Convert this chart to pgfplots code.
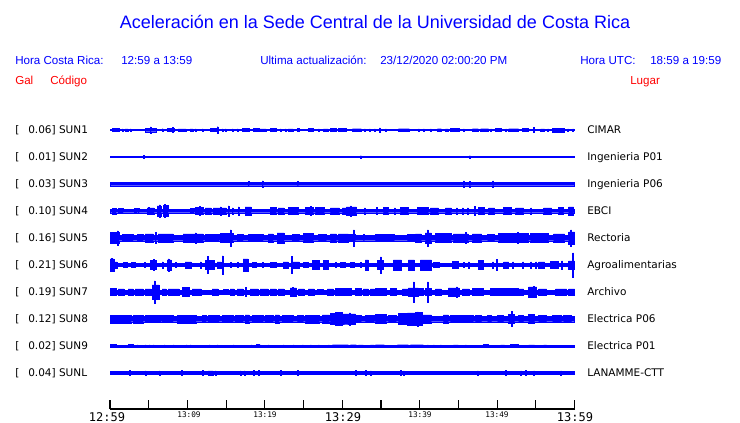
\documentclass[border=0pt]{standalone}
\usepackage{pgfplots}
\pgfplotsset{compat=1.18}
\usepackage{pgfplotstable}
\usepackage{fontspec}
\setmainfont{Liberation Sans}
\newfontfamily\djs{DejaVu Sans}
\newfontfamily\djm{DejaVu Sans Mono}
\definecolor{tb}{RGB}{0,0,255}
\definecolor{tr}{RGB}{255,0,0}

\pgfplotstableread[row sep=\\]{x a\\110 0.6\\112 1.5\\119 0.6\\122 1.2\\123 0.6\\125 1.2\\128 0.6\\130 1.2\\131 0.6\\145 1.7\\150 3\\151 1.7\\156 0.6\\162 1.3\\163 0.6\\167 1.5\\172 2.5\\173 1.5\\174 0.6\\178 1.2\\186 0.6\\190 1.2\\193 0.6\\195 1.2\\196 0.6\\202 1.2\\203 0.6\\210 1.5\\216 0.6\\217 3.3\\218 0.6\\222 1.2\\223 0.6\\225 1.2\\226 0.6\\232 1.2\\233 0.6\\237 1.2\\238 0.6\\242 1.5\\249 0.6\\253 1.5\\259 0.6\\260 1.2\\266 0.6\\270 1.5\\276 0.6\\280 1.2\\281 0.6\\285 1.2\\286 0.6\\288 1.2\\293 0.6\\297 1.5\\299 0.6\\308 1.5\\313 0.6\\318 1.2\\319 0.6\\323 1.2\\328 0.6\\330 1.5\\336 0.6\\338 1.5\\346 0.6\\352 1.3\\361 0.6\\364 1.2\\365 0.6\\369 1.2\\370 0.6\\374 1.2\\375 0.6\\379 2\\380 0.6\\385 1.2\\386 0.6\\398 1.3\\409 0.6\\418 1.2\\419 0.6\\423 1.2\\424 0.6\\430 1.2\\431 0.6\\437 1.3\\441 0.6\\445 1.2\\448 0.6\\450 1.5\\459 0.6\\463 1.2\\464 0.6\\472 1.3\\478 0.6\\480 1.3\\488 0.6\\490 1.2\\491 0.6\\495 1.5\\501 0.6\\505 1.2\\506 0.6\\508 1.3\\518 0.6\\522 1.5\\528 0.6\\533 2.5\\534 0.6\\540 1.2\\544 0.6\\547 1.2\\548 0.6\\552 1.8\\564 0.6\\567 1.2\\568 0.6\\572 1.2\\573 0.6\\574 0.6\\}\sunA

\pgfplotstableread[row sep=\\]{x a\\110 0.6\\143 1.5\\144 0.6\\360 1.3\\361 0.6\\469 1.3\\470 0.6\\574 0.6\\}\sunB

\pgfplotstableread[row sep=\\]{x a\\110 1.7\\248 2.5\\249 1.7\\262 3\\263 1.7\\297 2.5\\298 1.7\\463 3\\464 1.7\\469 2.8\\470 1.7\\492 3\\493 1.7\\574 1.7\\}\sunC

\pgfplotstableread[row sep=\\]{x a\\110 1.7\\112 2.8\\116 1.7\\118 2.5\\123 1.7\\134 2.5\\137 1.7\\138 2.5\\139 1.7\\147 3\\148 3.5\\149 3\\154 1.7\\157 5\\159 6\\160 5\\161 1.7\\163 5.5\\164 6.5\\165 5.5\\168 1.7\\190 2.5\\194 1.7\\195 3.5\\199 4.5\\200 3.5\\203 1.7\\205 3\\211 1.7\\213 3\\220 4\\221 3\\226 1.7\\228 5\\229 1.7\\232 3\\233 1.7\\238 4\\239 1.7\\245 4\\251 1.7\\270 3.5\\276 1.7\\278 3\\284 1.7\\288 3.5\\298 1.7\\305 3.5\\310 4.5\\311 3.5\\313 1.7\\315 3.5\\324 1.7\\330 3\\339 1.7\\342 3\\346 4\\350 5\\351 4\\356 1.7\\364 3\\365 1.7\\376 3.5\\377 1.7\\383 3.5\\388 1.7\\394 3\\395 1.7\\400 3.5\\408 1.7\\417 3.5\\428 1.7\\430 3\\438 1.7\\445 3\\451 1.7\\456 3\\457 1.7\\462 3\\463 1.7\\467 3\\468 1.7\\474 4.5\\475 1.7\\478 3.5\\484 1.7\\488 3\\494 1.7\\503 3.5\\511 1.7\\515 3\\523 1.7\\530 3\\531 1.7\\543 3\\551 1.7\\558 3.5\\563 1.7\\568 4\\573 1.7\\574 1.7\\}\sunD

\pgfplotstableread[row sep=\\]{x a\\110 5.5\\117 7\\118 5.5\\119 2.7\\122 3.5\\133 2.7\\137 3.5\\143 2.7\\145 4\\153 2.7\\155 5.5\\156 2.7\\158 4\\173 2.7\\183 4\\195 5\\196 4\\203 2.7\\205 3.5\\219 2.7\\220 4.5\\230 8\\231 4.5\\233 2.7\\237 3.5\\243 2.7\\248 3.5\\263 2.7\\268 4\\273 2.7\\277 5\\284 2.7\\292 3.5\\299 2.7\\303 4.5\\313 2.7\\318 3.5\\326 2.7\\330 4\\336 2.7\\338 4\\348 3.5\\353 8\\354 3.5\\355 2.7\\363 3.5\\364 2.7\\375 3.5\\394 2.7\\407 3.5\\415 4\\421 2.7\\425 5\\427 8\\428 5\\431 2.7\\435 4.5\\451 2.7\\453 4\\465 5.5\\466 4\\468 2.7\\472 4\\481 2.7\\487 3.5\\494 2.7\\498 4.5\\517 5.5\\518 4.5\\528 2.7\\530 4.5\\548 2.7\\553 4\\564 2.7\\568 6\\570 8\\571 6\\574 6\\}\sunE

\pgfplotstableread[row sep=\\]{x a\\110 6\\111 6.5\\112 6\\114 3\\117 1.5\\123 2.5\\127 1.5\\131 2.5\\135 1.5\\144 2.5\\145 1.5\\150 4.5\\153 5.5\\154 4.5\\156 1.5\\162 3\\163 1.5\\167 5\\168 6\\169 5\\171 1.5\\175 2.5\\176 1.5\\185 3\\191 1.5\\200 3\\201 1.5\\205 4.5\\207 8.5\\208 4.5\\214 1.5\\217 3\\221 1.5\\222 9\\223 1.5\\230 2.5\\231 1.5\\237 2.5\\238 1.5\\243 6\\248 1.5\\252 2.5\\256 1.5\\262 2.5\\263 1.5\\270 2.5\\276 1.5\\283 3\\288 1.5\\291 8.5\\292 3\\299 1.5\\303 2.5\\308 1.5\\312 4.5\\319 1.5\\323 4.5\\328 1.5\\335 2.5\\336 1.5\\340 2.5\\345 1.5\\350 2.5\\354 1.5\\360 2.5\\361 1.5\\365 5\\368 1.5\\377 4.5\\380 8\\381 4.5\\383 1.5\\393 5\\401 1.5\\408 5\\414 1.5\\420 5\\431 1.5\\433 2.5\\439 1.5\\452 3.5\\458 1.5\\463 2.5\\464 1.5\\468 3\\469 1.5\\478 4.5\\483 1.5\\492 3\\493 1.5\\496 5.5\\497 1.5\\503 3\\508 1.5\\512 3\\513 1.5\\522 3\\523 1.5\\530 3\\531 1.5\\535 3\\536 1.5\\538 3\\544 1.5\\550 3.5\\558 1.5\\561 4\\562 1.5\\568 4\\572 12\\573 4\\574 4\\}\sunF

\pgfplotstableread[row sep=\\]{x a\\110 3.5\\116 1.8\\118 3\\124 1.8\\128 3\\133 1.8\\135 3\\143 1.8\\145 3\\151 1.8\\152 7\\154 11\\155 7\\159 1.8\\162 3\\166 1.8\\168 3\\179 1.8\\182 4.5\\189 1.8\\192 3\\201 1.8\\212 3\\218 1.8\\223 2.5\\228 1.8\\230 3\\234 1.8\\237 3\\243 1.8\\245 4.5\\246 1.8\\250 3\\258 1.8\\260 3\\268 1.8\\270 3\\276 1.8\\278 3\\284 1.8\\290 4\\292 4.5\\293 4\\296 1.8\\298 3\\304 1.8\\308 3\\314 1.8\\317 2.5\\323 1.8\\327 3\\333 1.8\\335 3.5\\351 1.8\\355 3.5\\361 1.8\\363 3\\368 1.8\\370 3\\374 1.8\\375 3.5\\386 1.8\\390 3.5\\396 1.8\\402 3\\408 4\\413 10\\414 4\\418 3.5\\423 1.8\\425 3.5\\427 10\\428 3.5\\431 1.8\\435 3\\441 1.8\\448 4\\456 5\\457 4\\459 1.8\\462 3\\469 1.8\\472 3.5\\483 1.8\\490 3.5\\518 3\\523 1.8\\528 5\\533 5.5\\534 5\\536 1.8\\538 3\\546 1.8\\555 3\\566 1.8\\568 3\\574 3\\}\sunG

\pgfplotstableread[row sep=\\]{x a\\110 3.8\\131 2.7\\133 3.8\\143 2.7\\145 3.5\\161 2.7\\162 3.5\\173 2.7\\177 3.8\\196 2.7\\202 3.5\\206 2.7\\208 3.5\\219 2.7\\222 3.5\\233 2.7\\235 3.5\\243 2.7\\245 4\\249 2.7\\252 3.5\\263 2.7\\265 3.5\\273 2.7\\275 4\\279 2.7\\282 3.5\\293 2.7\\297 3.5\\303 2.7\\305 3.8\\319 2.7\\322 4\\329 2.7\\330 5.5\\335 6.5\\342 5\\346 5\\349 6\\350 5\\355 3.5\\361 2.7\\365 3.5\\374 2.7\\375 4.5\\386 2.7\\388 3.5\\396 2.7\\398 5.5\\407 6\\415 6.5\\417 7\\418 6.5\\422 4\\431 2.7\\443 4\\448 2.7\\450 3.5\\473 2.7\\475 3.5\\481 2.7\\487 3.5\\491 2.7\\497 3.5\\503 2.7\\508 4.5\\511 7.5\\512 4.5\\514 2.7\\518 3.5\\523 2.7\\528 4.5\\534 2.7\\538 3.5\\546 2.7\\552 3.5\\561 2.7\\563 3.5\\571 2.7\\574 2.7\\}\sunH

\pgfplotstableread[row sep=\\]{x a\\110 1.5\\116 0.7\\128 1.5\\133 0.7\\137 1.2\\138 0.7\\145 1.2\\146 0.7\\149 1.2\\150 0.7\\153 1.2\\154 0.7\\164 1.2\\165 0.7\\173 1.2\\174 0.7\\186 1.2\\187 0.7\\190 1.2\\191 0.7\\209 1.2\\210 0.7\\217 1.2\\218 0.7\\233 1.2\\234 0.7\\251 1.2\\252 0.7\\256 1.5\\259 0.7\\260 1.2\\261 0.7\\268 1.2\\269 0.7\\283 1.2\\284 0.7\\293 1.2\\294 0.7\\302 1.2\\303 0.7\\310 1.2\\311 0.7\\318 1.2\\319 0.7\\328 1.2\\329 0.7\\332 1.3\\348 0.7\\350 1.3\\356 0.7\\358 1.2\\363 0.7\\370 1.2\\374 0.7\\375 1.3\\384 0.7\\397 1.3\\408 0.7\\410 1.3\\423 0.7\\427 1.2\\428 0.7\\433 1.2\\434 0.7\\440 1.2\\441 0.7\\453 1.2\\458 0.7\\465 1.2\\466 0.7\\483 1.5\\488 0.7\\500 1.2\\504 0.7\\510 1.5\\518 0.7\\528 1.2\\534 0.7\\543 1.2\\546 0.7\\574 0.7\\}\sunI

\pgfplotstableread[row sep=\\]{x a\\110 1.5\\129 2.5\\130 1.5\\145 2.2\\146 1.5\\159 2.2\\160 1.5\\181 2.5\\182 1.5\\202 2.5\\203 1.5\\208 2\\213 1.5\\215 2\\216 1.5\\240 2\\241 1.5\\244 2\\245 1.5\\253 2.5\\254 1.5\\258 2.5\\259 1.5\\280 2.5\\281 1.5\\297 2.5\\298 1.5\\355 2.5\\356 1.5\\365 2.5\\366 1.5\\370 2\\371 1.5\\400 2.5\\401 1.5\\403 2\\404 1.5\\477 2\\478 1.5\\505 2.5\\506 1.5\\520 2\\521 1.5\\525 2.5\\526 1.5\\533 2\\534 1.5\\560 2\\561 1.5\\574 1.5\\}\sunL

\pgfplotsset{
  trace/.style={anchor=west, scale only axis, width=348pt, height=20.25pt,
    xmin=110, xmax=574, ymin=-13.5, ymax=13.5, hide axis, clip=false},
  env/.style={const plot, fill=tb, draw=tb, line width=0.25pt, line join=miter},
}
\newcommand\trace[2]{%
\begin{axis}[trace, at={(82.5pt,#1)}]
\addplot[env] table[x=x,y=a]{#2} \closedcycle;
\addplot[env] table[x=x,y expr=-\thisrow{a}]{#2} \closedcycle;
\addplot[tb, line width=0.6pt] coordinates {(110,0) (574,0)};
\end{axis}}

\newcommand\hdr{\fontsize{8.7pt}{10pt}\selectfont}
\newcommand\lab{\djs\fontsize{7.875pt}{9pt}\selectfont}

\begin{document}
\begin{tikzpicture}[x=0.75pt,y=-0.75pt]
\useasboundingbox[fill=white] (0,0) rectangle (740,423);

% title and header
\node[anchor=base, inner sep=0, text=tb, font=\fontsize{13.5pt}{16pt}\selectfont] at (375,29) {Aceleración en la Sede Central de la Universidad de Costa Rica};
\begin{scope}[every node/.style={anchor=base west, inner sep=0, text=tb, font=\hdr}]
\node at (15,65) {Hora Costa Rica:};
\node at (121,65) {12:59 a 13:59};
\node at (260,65) {Ultima actualización:};
\node at (380,65) {23/12/2020 02:00:20 PM};
\node at (580,65) {Hora UTC:};
\node at (650,65) {18:59 a 19:59};
\end{scope}
\begin{scope}[every node/.style={anchor=base west, inner sep=0, text=tr, font=\hdr}]
\node at (15,85) {Gal};
\node at (50,85) {Código};
\node at (630,85) {Lugar};
\end{scope}

% station labels
\begin{scope}[every node/.style={anchor=base west, inner sep=0, text=black, font=\lab}]
\foreach \y/\g/\c/\l [count=\i from 0] in {
  130/0.06/SUN1/CIMAR, 157/0.01/SUN2/Ingenieria P01, 184/0.03/SUN3/Ingenieria P06,
  211/0.10/SUN4/EBCI, 238/0.16/SUN5/Rectoria, 265/0.21/SUN6/Agroalimentarias,
  292/0.19/SUN7/Archivo, 319/0.12/SUN8/Electrica P06, 346/0.02/SUN9/Electrica P01,
  373/0.04/SUNL/LANAMME-CTT}{
  \node at (15,\y+3.8) {[};
  \node at (28,\y+3.8) {\g] \c};
  \node at (587,\y+3.8) {\l};
}
\end{scope}

% traces
\trace{-97.5pt}{\sunA}
\trace{-117.75pt}{\sunB}
\trace{-138pt}{\sunC}
\trace{-158.25pt}{\sunD}
\trace{-178.5pt}{\sunE}
\trace{-198.75pt}{\sunF}
\trace{-219pt}{\sunG}
\trace{-239.25pt}{\sunH}
\trace{-259.5pt}{\sunI}
\trace{-279.75pt}{\sunL}

% time axis
\begin{axis}[at={(82.5pt,-306.75pt)}, anchor=south west, scale only axis,
  width=348pt, height=15pt, xmin=110, xmax=574, ymin=0, ymax=1,
  axis x line=bottom, hide y axis,
  axis line style={-, black, line width=0.8pt},
  xtick={110,148.667,187.333,226,264.667,303.333,342,380.667,419.333,458,496.667,535.333,574},
  xticklabels={}, tick align=inside, major tick length=6.75pt,
  tick style={black, line width=0.8pt}]
\addplot[draw=none] coordinates {(110,0.5) (574,0.5)};
\end{axis}
\begin{scope}[every node/.style={anchor=base, inner sep=0, text=black}]
\node[font=\djm\fontsize{9pt}{10pt}\selectfont] at (107,422) {12:59};
\node[font=\djm\fontsize{9pt}{10pt}\selectfont] at (343,422) {13:29};
\node[font=\djm\fontsize{9pt}{10pt}\selectfont] at (575,422) {13:59};
\node[font=\djm\fontsize{5.8pt}{7pt}\selectfont] at (189,418) {13:09};
\node[font=\djm\fontsize{5.8pt}{7pt}\selectfont] at (265,418) {13:19};
\node[font=\djm\fontsize{5.8pt}{7pt}\selectfont] at (420,418) {13:39};
\node[font=\djm\fontsize{5.8pt}{7pt}\selectfont] at (497,418) {13:49};
\end{scope}
\end{tikzpicture}
\end{document}
